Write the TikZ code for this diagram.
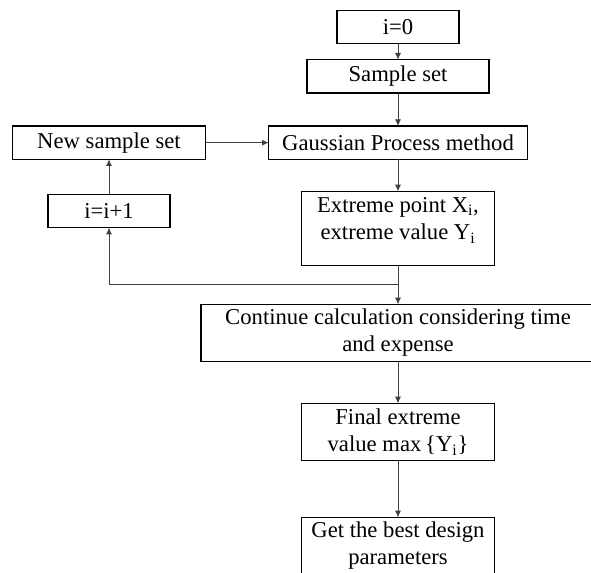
\documentclass[tikz,border=0pt]{standalone}
\usepackage{fontspec}
\setmainfont{Liberation Serif}
\usepackage{tikz}
\usetikzlibrary{arrows.meta,positioning,calc}

\begin{document}
\begin{tikzpicture}[node distance=24pt and 47pt, every node/.style={font=\fontsize{17}{20.5}\selectfont,align=center},
box/.style={draw,line width=1.1pt,minimum height=25pt,inner sep=2pt,outer sep=0pt},
arrow/.style={-{Latex[length=5pt,width=4.5pt]},line width=0.6pt,black!75}]
\clip (0,0) rectangle (443.25pt,-429.75pt);
\node[box,minimum width=91.5pt] (start) at (298.5pt,-20.25pt) {i=0};
\node[box,minimum width=136.5pt,below=12pt of start] (sample) {Sample set};
\node[box,minimum width=194pt,below=24.75pt of sample] (gauss) {Gaussian Process method};
\node[box,minimum width=145pt,minimum height=55.5pt,below=24pt of gauss] (extreme) {Extreme point X\textsubscript{i},\\extreme value Y\textsubscript{i}\\[-6pt]\mbox{}};
\node[box,minimum width=295.5pt,minimum height=42.75pt,below=29.25pt of extreme] (cont) {Continue calculation considering time\\and expense};
\node[box,minimum width=145pt,minimum height=42.75pt,below=31.5pt of cont] (final) {Final extreme\\value max\,\{Y\textsubscript{i}\}};
\node[box,minimum width=145pt,minimum height=42.75pt,below=42.75pt of final] (best) {Get the best design\\parameters};
\node[box,minimum width=145pt,left=47.25pt of gauss] (newset) {New sample set};
\node[box,minimum width=91.5pt,below=26.25pt of newset] (iinc) {i=i+1};
\coordinate (jn) at ($(extreme.south)!0.5!(cont.north)$);
\draw[arrow] (start)--(sample);
\draw[arrow] (sample)--(gauss);
\draw[arrow] (gauss)--(extreme);
\draw[arrow] (extreme)--(cont);
\draw[arrow] (cont)--(final);
\draw[arrow] (final)--(best);
\draw[arrow] (newset)--(gauss);
\draw[arrow] (jn) -| (iinc);
\draw[arrow] (iinc)--(newset);
\end{tikzpicture}
\end{document}
